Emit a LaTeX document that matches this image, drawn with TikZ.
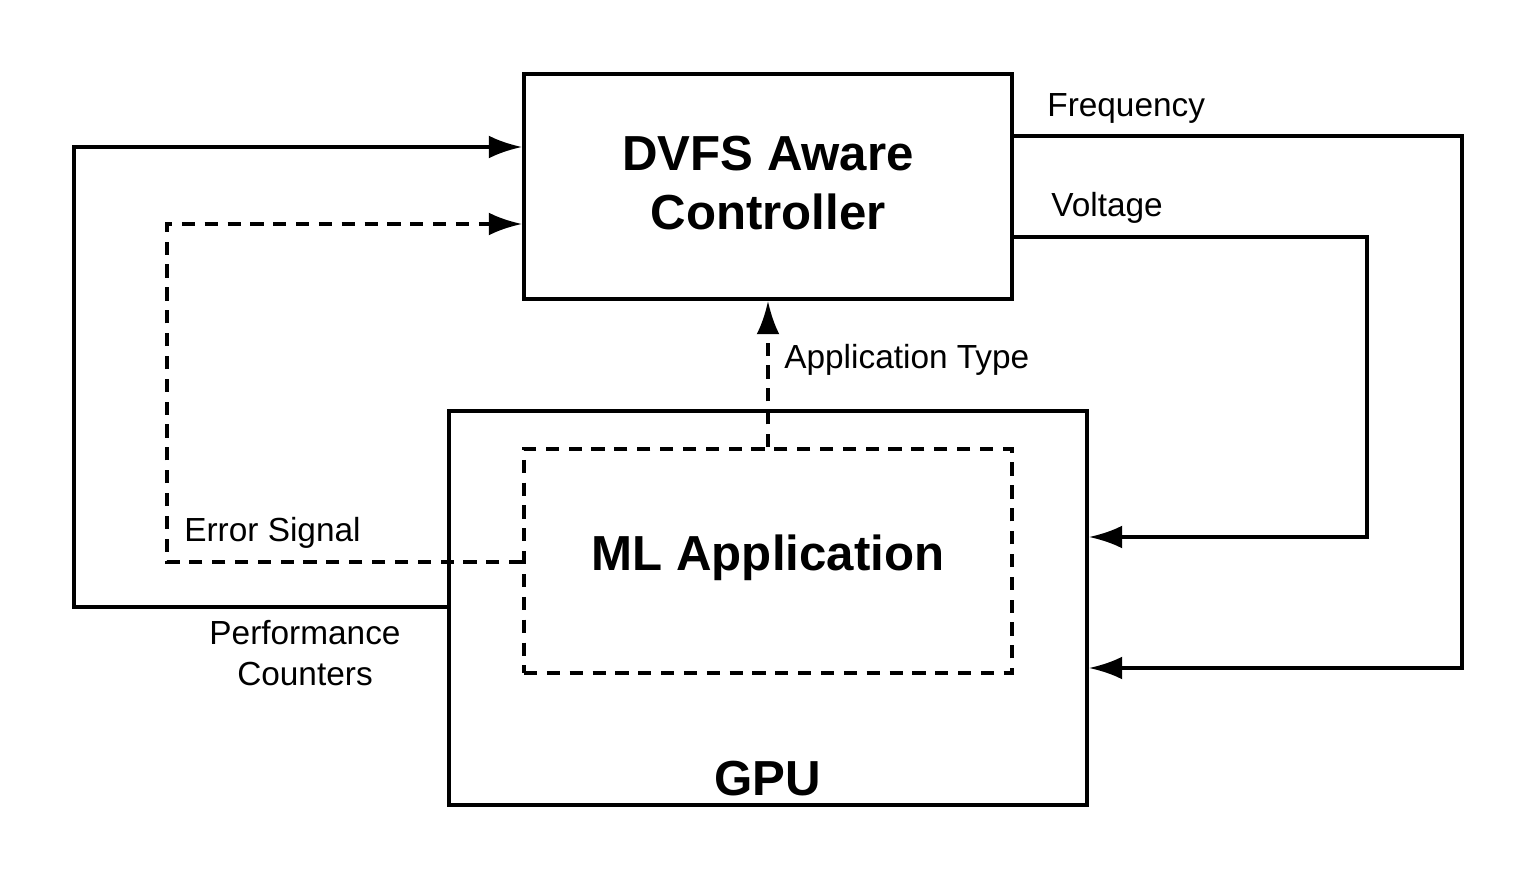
\documentclass[tikz,border=0pt]{standalone}
\usepackage{fontspec}
\setmainfont{Liberation Sans}
\usetikzlibrary{arrows.meta}
\usetikzlibrary{positioning}

\tikzset{
    wire/.style={draw=black, line width=2.2pt, -{Latex[length=19pt, width=13pt]}},
    dwire/.style={wire, dash pattern=on 7.5pt off 5.5pt}
}

\begin{document}
\begin{tikzpicture}[x=0.02cm, y=-0.02cm,
    box/.style={rectangle, draw=black, line width=2.1pt, inner sep=0pt},
    title/.style={font=\fontsize{28}{34}\selectfont\bfseries, align=center},
    lbl/.style={font=\fontsize{19}{23}\selectfont, inner sep=0pt}]
        \useasboundingbox (0,0) rectangle (1538,881);

        % boxes
        \node[box, minimum width=9.76cm, minimum height=4.5cm] (ctrl) at (768,186.5) {};
        \node[title] (ctrltext) at (768,183) {DVFS Aware\\Controller};
        \node[box, minimum width=12.76cm, minimum height=7.88cm] (gpu) at (768,608) {};
        \node[title] (gputext) at (768,779) {GPU};
        \node[box, dash pattern=on 7.5pt off 5.5pt, minimum width=9.76cm, minimum height=4.48cm] (ml) at (768,561) {};
        \node[title] (mltext) at (768,558) {ML Application};

        % bends
        \coordinate (f1) at (1462,136);
        \coordinate (f2) at (1462,668);
        \coordinate (v1) at (1367,237);
        \coordinate (v2) at (1367,537);
        \coordinate (p1) at (74,607);
        \coordinate (p2) at (74,147);
        \coordinate (e1) at (167,562);
        \coordinate (e2) at (167,224);

        \draw[wire] (ctrl.east |- f1) -- (f1) -- (f2) -- (gpu.east |- f2);
        \draw[wire] (ctrl.east |- v1) -- (v1) -- (v2) -- (gpu.east |- v2);
        \draw[wire] (gpu.west |- p1) -- (p1) -- (p2) -- (ctrl.west |- p2);
        \draw[dwire] (ml.west |- e1) -- (e1) -- (e2) -- (ctrl.west |- e2);
        \draw[dwire] (ml.north) -- (ctrl.south);

        % labels
        \node[lbl, anchor=west] (freq) at (1047,108) {Frequency};
        \node[lbl, anchor=west] (volt) at (1051,208) {Voltage};
        \node[lbl, anchor=west] (apptype) at (784,360) {Application Type};
        \node[lbl, anchor=west] (err) at (184,533) {Error Signal};
        \node[lbl, align=center] (perf) at (305,653) {Performance\\Counters};
    \end{tikzpicture}
\end{document}
